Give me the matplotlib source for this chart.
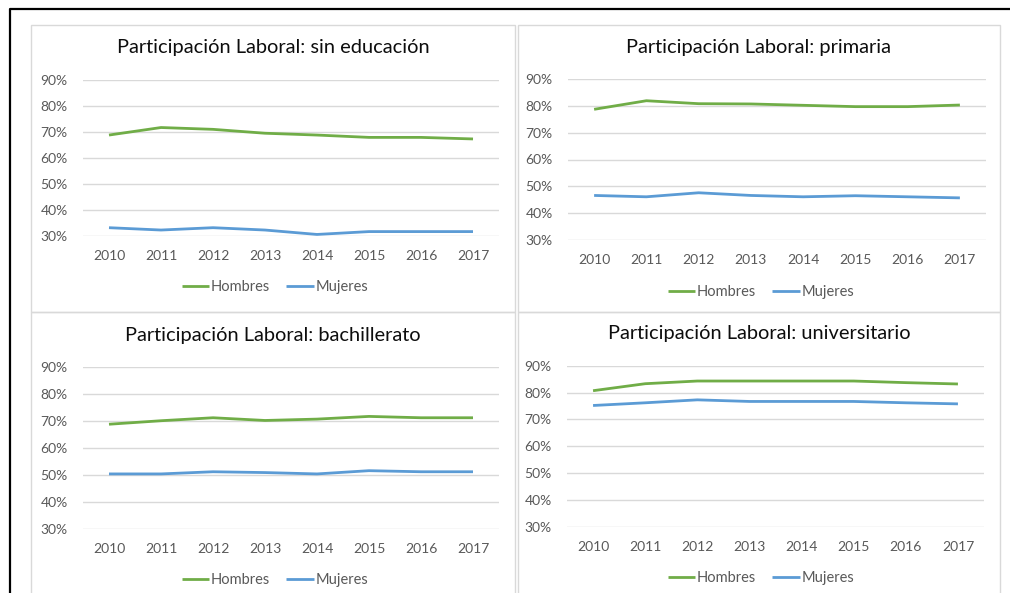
import matplotlib
matplotlib.use("Agg")
import matplotlib.pyplot as plt
from matplotlib.patches import Rectangle
from matplotlib.lines import Line2D
from matplotlib.ticker import PercentFormatter

plt.rcParams['font.family'] = ['Lato', 'DejaVu Sans']

years = ['2010', '2011', '2012', '2013', '2014', '2015', '2016', '2017']

titles = [
    'Participación Laboral: sin educación',
    'Participación Laboral: primaria',
    'Participación Laboral: bachillerato',
    'Participación Laboral: universitario',
]

hombres_sin = [68.9, 71.8, 71.1, 69.6, 68.9, 68.0, 68.0, 67.4]
mujeres_sin = [33.2, 32.3, 33.2, 32.3, 30.6, 31.7, 31.7, 31.7]

hombres_pri = [78.7, 81.9, 80.8, 80.7, 80.2, 79.7, 79.7, 80.3]
mujeres_pri = [46.6, 46.1, 47.6, 46.6, 46.1, 46.5, 46.1, 45.7]

hombres_bach = [68.8, 70.1, 71.2, 70.2, 70.7, 71.7, 71.2, 71.2]
mujeres_bach = [50.4, 50.4, 51.2, 50.9, 50.4, 51.6, 51.2, 51.2]

hombres_uni = [80.7, 83.3, 84.3, 84.3, 84.3, 84.3, 83.7, 83.2]
mujeres_uni = [75.2, 76.2, 77.3, 76.7, 76.7, 76.7, 76.2, 75.8]

series_labels = ['Hombres', 'Mujeres']
yticks = [30, 40, 50, 60, 70, 80, 90]

GREEN = '#70AD47'
BLUE = '#5B9BD5'
GRID = '#D9D9D9'
TXT = '#595959'

W, H = 1010, 593
fig = plt.figure(figsize=(W / 100, H / 100), dpi=100)
fig.patch.set_facecolor('white')

def fx(x):
    return x / W

def fy(y):
    return 1 - y / H

# panel frames (x0, x1, y_top, y_bot)
panels = [(31, 515, 25, 312), (518, 1000, 25, 312),
          (31, 515, 312, 600), (518, 1000, 312, 600)]
# plot areas (x0, x1, y90, y30)
areas = [(83, 499, 80.3, 236), (568, 986, 79, 240),
         (83, 499, 367, 529), (567, 984, 365.7, 527)]
title_y = [48, 47, 335, 334]
legend_y = [287, 292, 580, 578]

data = [(hombres_sin, mujeres_sin), (hombres_pri, mujeres_pri),
        (hombres_bach, mujeres_bach), (hombres_uni, mujeres_uni)]

for (px0, px1, pyt, pyb) in panels:
    fig.add_artist(Rectangle((fx(px0), fy(pyb)), fx(px1 - px0), (pyb - pyt) / H,
                             transform=fig.transFigure, facecolor='none',
                             edgecolor=GRID, linewidth=1.0, zorder=0))

for i in range(4):
    x0, x1, y90, y30 = areas[i]
    ax = fig.add_axes([fx(x0), fy(y30), fx(x1 - x0), (y30 - y90) / H])
    ax.set_facecolor('none')
    h, m = data[i]
    xs = list(range(len(years)))
    lh, = ax.plot(xs, h, color=GREEN, lw=2.0, label=series_labels[0],
                  solid_capstyle='butt')
    lm, = ax.plot(xs, m, color=BLUE, lw=2.0, label=series_labels[1],
                  solid_capstyle='butt')
    ax.set_xlim(-0.5, len(years) - 0.5)
    ax.set_ylim(30, 90)
    ax.set_yticks(yticks)
    ax.yaxis.set_major_formatter(PercentFormatter(decimals=0))
    ax.set_xticks(xs)
    ax.set_xticklabels(years)
    for s in ax.spines.values():
        s.set_visible(False)
    ax.grid(axis='y', color=GRID, lw=1.0)
    ax.set_axisbelow(True)
    ax.tick_params(axis='both', length=0, labelcolor=TXT, labelsize=10)
    ax.tick_params(axis='x', pad=10)
    ax.tick_params(axis='y', pad=11)

    px0, px1, pyt, pyb = panels[i]
    cx = (px0 + px1) / 2
    fig.text(fx(cx), fy(title_y[i]), titles[i], ha='center', va='center',
             fontsize=14.4, color='#0d0d0d')
    leg = ax.legend(handles=[lh, lm], loc='center',
                    bbox_to_anchor=(fx(cx + 2), fy(legend_y[i])),
                    bbox_transform=fig.transFigure, ncol=2, frameon=False,
                    fontsize=10.5, handlelength=1.9, handletextpad=0.12,
                    columnspacing=1.1, borderaxespad=0, borderpad=0)
    for t in leg.get_texts():
        t.set_color(TXT)

# outer black border (left and top)
fig.add_artist(Line2D([fx(9.5), fx(9.5), 1.0], [0.0, fy(8.5), fy(8.5)],
                      transform=fig.transFigure, color='black', lw=1.6))

fig.savefig('out.png', dpi=100, facecolor='white')
